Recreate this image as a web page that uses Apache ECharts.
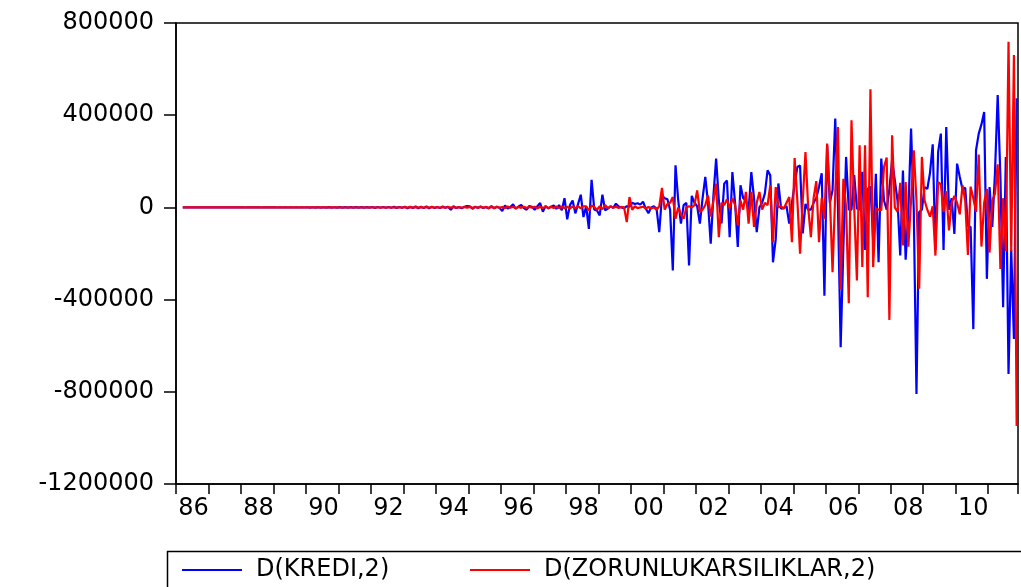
<!DOCTYPE html>
<html>
<head>
<meta charset="utf-8">
<script src="https://cdn.jsdelivr.net/npm/echarts@6/dist/echarts.min.js"></script>
<style>
html,body{margin:0;padding:0;background:#fff;}
#chart{width:1021px;height:587px;}
</style>
</head>
<body>
<div id="chart"></div>
<script>
// Monthly categories 1986M01 .. 2011M11
const startYear = 1986, endYear = 2011, endMonth = 11;
const months = [];
for (let y = startYear; y <= endYear; y++) {
  for (let m = 1; m <= 12; m++) {
    if (y === endYear && m > endMonth) break;
    months.push(y + 'M' + (m < 10 ? '0' + m : m));
  }
}

const yTicks = [-1200000, -800000, -400000, 0, 400000, 800000];
const seriesNames = ['D(KREDI,2)', 'D(ZORUNLUKARSILIKLAR,2)'];

// D(KREDI,2)
const kredi = [
  null,null,120,-180,150,-90,70,-130,160,-110,90,-70,                       // 1986
  200,-250,180,-150,220,-190,160,-210,250,-230,190,-170,                    // 1987
  300,-350,280,-260,320,-300,270,-330,360,-310,290,-280,                    // 1988
  450,-520,400,-380,500,-460,420,-480,550,-500,430,-410,                    // 1989
  700,-850,650,-600,800,-750,680,-720,900,-820,700,-650,                    // 1990
  1100,-1300,1000,-950,1200,-1150,1050,-1100,1400,-1250,1100,-1000,         // 1991
  1800,-2100,1600,-1500,1900,-1800,1700,-1750,2200,-2000,1800,-1600,        // 1992
  2500,-3500,3000,-2500,4000,-3500,2800,-3200,4500,-4000,3500,-3000,        // 1993
  2000,-3000,4000,-2000,3000,-10000,5000,-3000,2000,-4000,3000,6000,        // 1994
  5000,-6000,3000,-2000,4000,-3000,2000,-5000,6000,-4000,3000,-2000,        // 1995
  -16000,8000,-5000,2000,13000,-6000,4000,10000,-3000,-10000,6000,3000,     // 1996
  -10000,5000,19000,-19000,6000,-4000,3000,8000,-6000,10000,-12000,40000,   // 1997
  -52000,10000,30000,-26000,15000,55000,-42000,5000,-93000,120000,-10000,-13000, // 1998
  -35000,55000,-13000,-5000,5000,-2000,16000,4000,0,-3000,5000,3000,        // 1999
  20000,15000,18000,12000,25000,-5000,-25000,0,5000,-5000,-107000,52000,    // 2000
  40000,35000,-10000,-274000,183000,30000,-70000,10000,20000,-252000,50000,20000, // 2001
  5000,-70000,40000,132000,20000,-157000,50000,212000,30000,-70000,103000,117000, // 2002
  -129000,153000,20000,-172000,96000,40000,30000,-13000,153000,40000,-107000,0,   // 2003
  20000,60000,161000,139000,-238000,-140000,104000,-5000,-3000,5000,-70000,20000, // 2004
  100000,175000,182000,-113000,15000,-10000,-10000,20000,40000,89000,148000,-383000, // 2005
  270000,20000,74000,385000,0,-607000,-172000,219000,-10000,-10000,140000,-5000,  // 2006
  -10000,154000,-185000,80000,90000,-140000,146000,-238000,212000,30000,-10000,80000, // 2007
  205000,117000,30000,-208000,160000,-227000,-20000,342000,-10000,-810000,-20000,-10000, // 2008
  88000,80000,150000,274000,-185000,240000,320000,-185000,349000,-10000,40000,-115000, // 2009
  190000,132000,79000,85000,-80000,-85000,-528000,248000,320000,360000,414000,-310000, // 2010
  88000,-85000,150000,487000,132000,-433000,219000,-723000,-185000,-571000,473000      // 2011
];

// D(ZORUNLUKARSILIKLAR,2)
const zorunlu = [
  null,null,50,-60,40,-50,60,-40,50,-60,40,-50,                             // 1986
  80,-90,70,-80,90,-70,80,-90,70,-80,90,-70,                                // 1987
  120,-130,110,-120,140,-110,120,-130,110,-120,130,-110,                    // 1988
  180,-200,170,-190,210,-180,190,-200,170,-190,200,-180,                    // 1989
  280,-300,260,-290,310,-270,290,-300,260,-290,300,-270,                    // 1990
  400,-450,380,-420,460,-400,430,-440,390,-420,450,-400,                    // 1991
  600,-650,580,-620,680,-600,640,-660,590,-620,660,-600,                    // 1992
  900,-1000,850,-950,1050,-900,980,-1000,880,-950,1000,-900,                // 1993
  1200,-1500,1100,-1300,1600,-1200,1400,-1500,1100,-1300,1500,-1200,        // 1994
  1800,-2200,1700,-2000,2400,-1800,2100,-2200,1700,-2000,2300,-1800,        // 1995
  2000,-3000,4000,-2000,3000,-4000,2000,-2000,3000,-3000,2000,-1000,        // 1996
  3000,-4000,2500,-3000,4500,-3500,3000,-2500,4000,-3000,2500,-4000,        // 1997
  3000,-5000,4000,-3000,6000,-4000,5000,5000,-13000,8000,2000,-10000,       // 1998
  5000,-8000,10000,-3000,4000,-2000,3000,-3000,2000,0,-64000,45000,         // 1999
  -10000,5000,-3000,0,3000,-5000,2000,-5000,0,-10000,5000,85000,            // 2000
  -10000,15000,20000,45000,-49000,0,-30000,-49000,0,5000,0,10000,           // 2001
  74000,-20000,-10000,10000,52000,-40000,30000,103000,-129000,20000,10000,35000, // 2002
  -5000,40000,10000,-78000,30000,-10000,67000,-70000,67000,-85000,20000,67000,   // 2003
  -10000,20000,10000,96000,-151000,88000,0,5000,-5000,20000,45000,-151000,       // 2004
  214000,30000,-201000,30000,240000,0,-129000,40000,114000,-151000,40000,-50000, // 2005
  277000,50000,-281000,60000,349000,-354000,124000,0,-416000,378000,0,-317000,   // 2006
  270000,-259000,270000,-390000,512000,-259000,-5000,-10000,-12000,175000,216000,-488000, // 2007
  313000,0,-20000,107000,-165000,110000,-170000,30000,248000,30000,-353000,219000,  // 2008
  30000,-10000,-40000,5000,-209000,110000,100000,-20000,70000,-100000,20000,50000,  // 2009
  20000,-30000,96000,30000,-206000,90000,40000,-20000,229000,-170000,20000,80000,   // 2010
  -196000,30000,60000,187000,-267000,40000,-190000,719000,-190000,661000,-948000     // 2011
];

const FONT = 'DejaVu Sans';
const chart = echarts.init(document.getElementById('chart'), null, {renderer: 'canvas'});
chart.setOption({
  animation: false,
  backgroundColor: '#ffffff',
  grid: {left: 176, right: 3, top: 23, bottom: 103, show: true, borderColor: '#000', borderWidth: 1.5, backgroundColor: 'transparent'},
  xAxis: {
    type: 'category',
    data: months,
    boundaryGap: true,
    axisLine: {onZero: false, lineStyle: {color: '#000', width: 1.5}},
    axisTick: {show: true, length: 10, interval: function (i) { return i % 12 === 0; }, lineStyle: {color: '#000', width: 1.5}},
    axisLabel: {
      interval: function (i) { return i % 24 === 6; },
      formatter: function (v) { return v.slice(2, 4); },
      fontFamily: FONT, fontSize: 24, color: '#000', margin: 13
    },
    splitLine: {show: false}
  },
  yAxis: {
    type: 'value',
    min: yTicks[0], max: yTicks[yTicks.length - 1], interval: 400000,
    axisLine: {show: true, onZero: false, lineStyle: {color: '#000', width: 1.5}},
    axisTick: {show: true, length: 12, lineStyle: {color: '#000', width: 1.5}},
    axisLabel: {fontFamily: FONT, fontSize: 24, color: '#000', margin: 22,
      formatter: function (v) { return String(v); }},
    splitLine: {show: false}
  },
  legend: [
    {data: [seriesNames[0]], left: 182, top: 558, padding: 0, icon: 'rect', itemWidth: 60, itemHeight: 2,
     textStyle: {fontFamily: FONT, fontSize: 24, color: '#000', padding: [0, 0, 0, 9]}},
    {data: [seriesNames[1]], left: 470, top: 558, padding: 0, icon: 'rect', itemWidth: 60, itemHeight: 2,
     textStyle: {fontFamily: FONT, fontSize: 24, color: '#000', padding: [0, 0, 0, 9]}}
  ],
  graphic: [{
    type: 'rect', left: 165, top: 549, silent: true,
    shape: {width: 1000, height: 100},
    style: {fill: 'none', stroke: '#000', lineWidth: 1.5}
  }],
  series: [
    {name: seriesNames[0], type: 'line', data: kredi, symbol: 'none', color: '#0000FF',
     lineStyle: {color: '#0000FF', width: 2.2}, connectNulls: false},
    {name: seriesNames[1], type: 'line', data: zorunlu, symbol: 'none', color: '#FF0000',
     lineStyle: {color: '#FF0000', width: 2.2}, connectNulls: false}
  ]
});
</script>
</body>
</html>
